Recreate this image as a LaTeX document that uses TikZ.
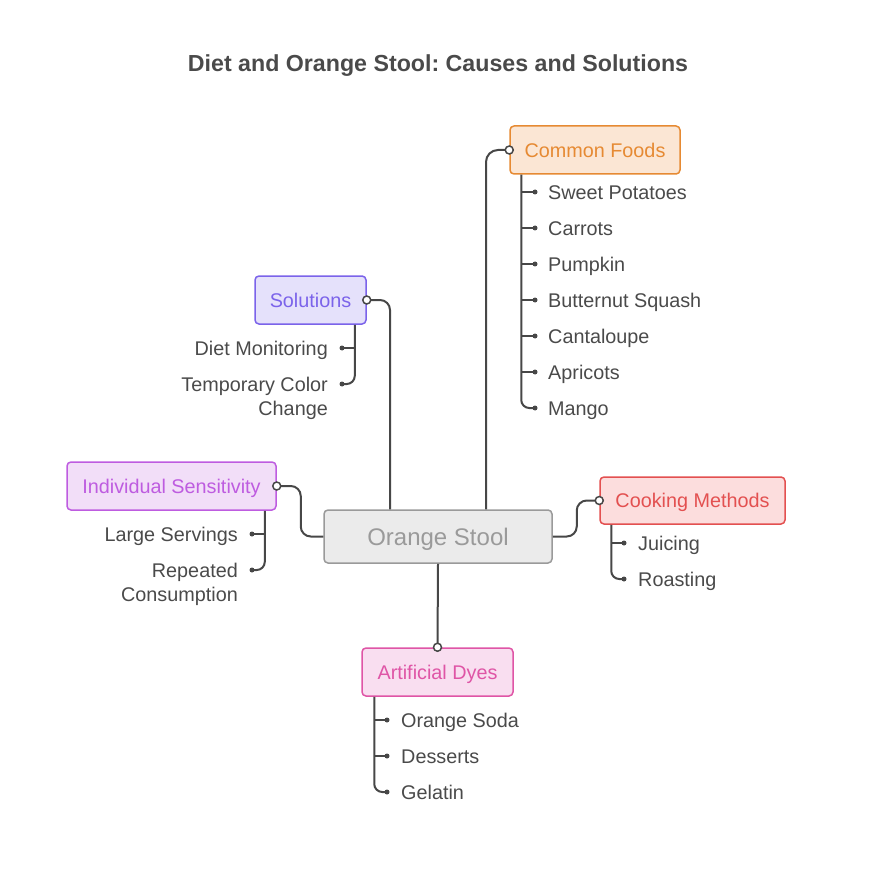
\documentclass[tikz,border=0pt]{standalone}
\usepackage{fontspec}
\setmainfont{Liberation Sans}
\frenchspacing
\usetikzlibrary{positioning}
\definecolor{linegray}{HTML}{474747}
\definecolor{textgray}{HTML}{4A4A4A}
\definecolor{hubfill}{HTML}{EBEBEB}
\definecolor{hubline}{HTML}{9A9A9A}
\definecolor{foodfill}{HTML}{FBE6D4}
\definecolor{foodline}{HTML}{E68A33}
\definecolor{solfill}{HTML}{E5E1FB}
\definecolor{solline}{HTML}{7B63EA}
\definecolor{indfill}{HTML}{F2DEF8}
\definecolor{indline}{HTML}{BE5CE0}
\definecolor{cookfill}{HTML}{FCDDDD}
\definecolor{cookline}{HTML}{E35050}
\definecolor{dyefill}{HTML}{F9DEF0}
\definecolor{dyeline}{HTML}{DF55A6}
\tikzstyle{topic}=[draw, rounded corners=4pt, line width=1.5pt, inner sep=0pt, minimum height=48pt, text height=14.2pt, text depth=0pt, font=\fontsize{19.8}{24}\selectfont]
\tikzstyle{leaf}=[inner sep=0pt, text=textgray, font=\fontsize{19.8}{24}\selectfont]
\tikzstyle{leafline}=[leaf, text height=14.2pt, text depth=0pt]
\tikzstyle{link}=[draw=linegray, line width=2pt]
\tikzstyle{port}=[circle, draw=linegray, fill=white, line width=1.5pt, inner sep=0pt, minimum size=8pt]
\tikzstyle{dot}=[circle, fill=linegray, inner sep=0pt, minimum size=5pt]

\begin{document}
\begin{tikzpicture}[x=1pt, y=-1pt]
        \useasboundingbox (0,0) rectangle (876,882);
        \node[text=textgray, inner sep=0pt, text height=16.6pt, text depth=0pt, font=\bfseries\fontsize{23.2}{28}\selectfont] (title) at (438,63) {Diet and Orange Stool: Causes and Solutions};

        % centre and topics
        \node[topic, minimum width=228pt, minimum height=53pt, text height=17.2pt, fill=hubfill, draw=hubline, text=hubline, font=\fontsize{24}{28}\selectfont] (hub) at (438,536.5) {Orange Stool};
        \node[topic, minimum width=170pt, fill=foodfill, draw=foodline, text=foodline] (food) at (595,150) {Common Foods};
        \node[topic, minimum width=111pt, fill=solfill, draw=solline, text=solline] (sol) at (310.5,300) {Solutions};
        \node[topic, minimum width=209pt, fill=indfill, draw=indline, text=indline] (ind) at (171.5,486) {Individual Sensitivity};
        \node[topic, minimum width=185pt, minimum height=47pt, fill=cookfill, draw=cookline, text=cookline] (cook) at (692.5,500.5) {Cooking Methods};
        \node[topic, minimum width=151pt, fill=dyefill, draw=dyeline, text=dyeline] (dye) at (437.5,672) {Artificial Dyes};

        % hub links
        \draw[link, rounded corners=12pt] ([xshift=48pt]hub.north) |- (food.west);
        \draw[link, rounded corners=10pt] (sol.east) -| ([xshift=-48pt]hub.north);
        \draw[link, rounded corners=10pt] (ind.east) -- ++(24,0) |- (hub.west);
        \draw[link, rounded corners=10pt] (hub.east) -- ++(24,0) |- (cook.west);
        \draw[link] (hub.south) -- (dye.north);
        \foreach \t in {food.west, sol.east, ind.east, cook.west, dye.north}
            \node[port] at (\t) {};

        % common foods
        \foreach \txt [count=\i] in {Sweet Potatoes, Carrots, Pumpkin, Butternut Squash, Cantaloupe, Apricots, Mango}
            \node[leafline, anchor=west] (food\i) at (548,156+36*\i) {\txt};
        \coordinate (foodbar) at ([xshift=12pt]food.south west);
        \foreach \i in {1,...,6}
            \draw[link] (foodbar |- food\i.west) -- ([xshift=-13pt]food\i.west);
        \draw[link, rounded corners=8pt] (foodbar) |- ([xshift=-13pt]food7.west);
        \foreach \i in {1,...,7}
            \node[dot] at ([xshift=-13pt]food\i.west) {};

        % solutions
        \node[leafline, anchor=east] (sol1) at (328,348) {Diet Monitoring};
        \node[leaf, anchor=north east, align=right] (sol2) at (328,376.9) {Temporary Color\\Change};
        \coordinate (solbar) at ([xshift=-12pt]sol.south east);
        \coordinate (sol2d) at (342,384);
        \draw[link] (solbar |- sol1.east) -- ([xshift=14pt]sol1.east);
        \draw[link, rounded corners=8pt] (solbar) |- (sol2d);
        \node[dot] at ([xshift=14pt]sol1.east) {};
        \node[dot] at (sol2d) {};

        % individual sensitivity
        \node[leafline, anchor=east] (ind1) at (238,534) {Large Servings};
        \node[leaf, anchor=north east, align=right] (ind2) at (238,562.9) {Repeated\\Consumption};
        \coordinate (indbar) at ([xshift=-12pt]ind.south east);
        \coordinate (ind2d) at (252,570);
        \draw[link] (indbar |- ind1.east) -- ([xshift=14pt]ind1.east);
        \draw[link, rounded corners=8pt] (indbar) |- (ind2d);
        \node[dot] at ([xshift=14pt]ind1.east) {};
        \node[dot] at (ind2d) {};

        % cooking methods
        \node[leafline, anchor=west] (cook1) at (638,543) {Juicing};
        \node[leafline, anchor=west] (cook2) at (638,579) {Roasting};
        \coordinate (cookbar) at ([xshift=12pt]cook.south west);
        \draw[link] (cookbar |- cook1.west) -- ([xshift=-14pt]cook1.west);
        \draw[link, rounded corners=8pt] (cookbar) |- ([xshift=-14pt]cook2.west);
        \node[dot] at ([xshift=-14pt]cook1.west) {};
        \node[dot] at ([xshift=-14pt]cook2.west) {};

        % artificial dyes
        \foreach \txt [count=\i] in {Orange Soda, Desserts, Gelatin}
            \node[leafline, anchor=west] (dye\i) at (401,684+36*\i) {\txt};
        \coordinate (dyebar) at ([xshift=13pt]dye.south west);
        \foreach \i in {1,2}
            \draw[link] (dyebar |- dye\i.west) -- ([xshift=-14pt]dye\i.west);
        \draw[link, rounded corners=8pt] (dyebar) |- ([xshift=-14pt]dye3.west);
        \foreach \i in {1,2,3}
            \node[dot] at ([xshift=-14pt]dye\i.west) {};
\end{tikzpicture}
\end{document}
